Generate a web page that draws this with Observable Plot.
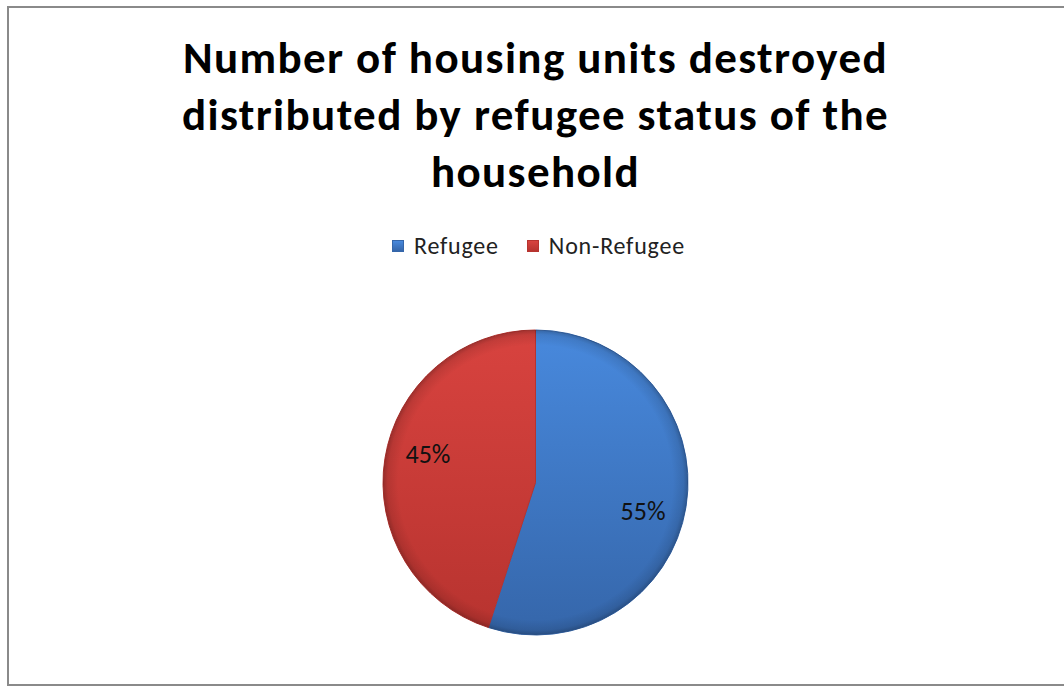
<!DOCTYPE html>
<html>
<head>
<meta charset="utf-8">
<script src="https://cdn.jsdelivr.net/npm/d3@7"></script>
<script src="https://cdn.jsdelivr.net/npm/@observablehq/plot@0.6"></script>
<style>
  html, body { margin: 0; padding: 0; background: #fff; }
  #wrap { position: relative; width: 1064px; height: 688px; overflow: hidden; font-family: Carlito, Calibri, Lato, sans-serif; }
  #frame { position: absolute; left: 7px; top: 6px; width: 1080px; height: 680px; border: 2px solid #8a8a8a; box-sizing: border-box; }
  #title { position: absolute; left: 0; top: 29px; width: 1071px; text-align: center; font-weight: bold; font-size: 45px; letter-spacing: 1.4px; line-height: 57px; color: #000; }
  #legend { position: absolute; left: 0; top: 231px; width: 1077px; display: flex; justify-content: center; font-size: 24px; letter-spacing: 0.8px; color: #222; }
  .item { display: flex; align-items: center; margin: 0 14px; }
  .sw { width: 12px; height: 12px; margin-right: 10px; box-sizing: border-box; }
  #chart { position: absolute; left: 0; top: 300px; }
</style>
</head>
<body>
<div id="wrap">
  <div id="frame"></div>
  <div id="title"></div>
  <div id="legend"></div>
  <div id="chart"></div>
</div>
<script>
const titleLines = ["Number of housing units destroyed", "distributed by refugee status of the", "household"];
const categories = ["Refugee", "Non-Refugee"];
const shares = [55, 45];
const colorsTop = ["#4889dd", "#d8433f"];
const colorsBottom = ["#3566aa", "#b7332f"];

document.getElementById("title").innerHTML = titleLines.join("<br>");
const legend = document.getElementById("legend");
categories.forEach((c, i) => {
  const it = document.createElement("div");
  it.className = "item";
  const sw = document.createElement("div");
  sw.className = "sw";
  sw.style.background = `linear-gradient(${colorsTop[i]}, ${colorsBottom[i]})`;
  sw.style.border = `1px solid ${colorsBottom[i]}`;
  it.appendChild(sw);
  const t = document.createElement("span");
  t.textContent = c;
  it.appendChild(t);
  legend.appendChild(it);
});

const data = categories.map((c, i) => ({category: c, value: shares[i], label: shares[i] + "%"}));
const W = 1064, H = 360;
const R = 152.5;

const pieMark = (index, scales, values, dimensions, context) => {
  const cx = scales.x(0), cy = scales.y(0);
  const g = d3.create("svg:g");
  const defs = g.append("defs");
  data.forEach((d, i) => {
    const lg = defs.append("linearGradient").attr("id", "lg" + i)
      .attr("gradientUnits", "userSpaceOnUse")
      .attr("x1", 0).attr("y1", -R).attr("x2", 0).attr("y2", R);
    lg.append("stop").attr("offset", "0%").attr("stop-color", colorsTop[i]);
    lg.append("stop").attr("offset", "100%").attr("stop-color", colorsBottom[i]);
  });
  const rg = defs.append("radialGradient").attr("id", "rim")
    .attr("gradientUnits", "userSpaceOnUse").attr("cx", 0).attr("cy", 0).attr("r", R);
  rg.append("stop").attr("offset", "0.9").attr("stop-color", "#000").attr("stop-opacity", 0);
  rg.append("stop").attr("offset", "0.97").attr("stop-color", "#000").attr("stop-opacity", 0.1);
  rg.append("stop").attr("offset", "1").attr("stop-color", "#000").attr("stop-opacity", 0.25);

  const arcs = d3.pie().sort(null).value(d => d.value)(data);
  const arc = d3.arc().innerRadius(0).outerRadius(R);
  const pg = g.append("g").attr("transform", `translate(${cx},${cy})`);
  pg.selectAll("path.s").data(arcs).join("path").attr("class", "s")
    .attr("d", arc)
    .attr("fill", (d, i) => `url(#lg${i})`)
    .attr("stroke", (d, i) => colorsBottom[i])
    .attr("stroke-width", 1);
  pg.append("circle").attr("r", R).attr("fill", "url(#rim)");
  const labelOffset = 6 * Math.PI / 180;
  arcs.forEach(a => {
    const m = (a.startAngle + a.endAngle) / 2 + labelOffset;
    const r = R * 0.73;
    pg.append("text")
      .attr("x", r * Math.sin(m)).attr("y", -r * Math.cos(m))
      .attr("text-anchor", "middle").attr("dy", "0.35em")
      .attr("font-size", 26).attr("fill", "#111")
      .text(a.data.label);
  });
  return g.node();
};

const chart = Plot.plot({
  width: W,
  height: H,
  margin: 0,
  x: {domain: [-535.5, W - 535.5], axis: null},
  y: {domain: [-177.5, H - 177.5], axis: null},
  style: {fontFamily: "Carlito, Calibri, Lato, sans-serif", background: "transparent", overflow: "visible"},
  marks: [pieMark]
});
document.getElementById("chart").appendChild(chart);
</script>
</body>
</html>
